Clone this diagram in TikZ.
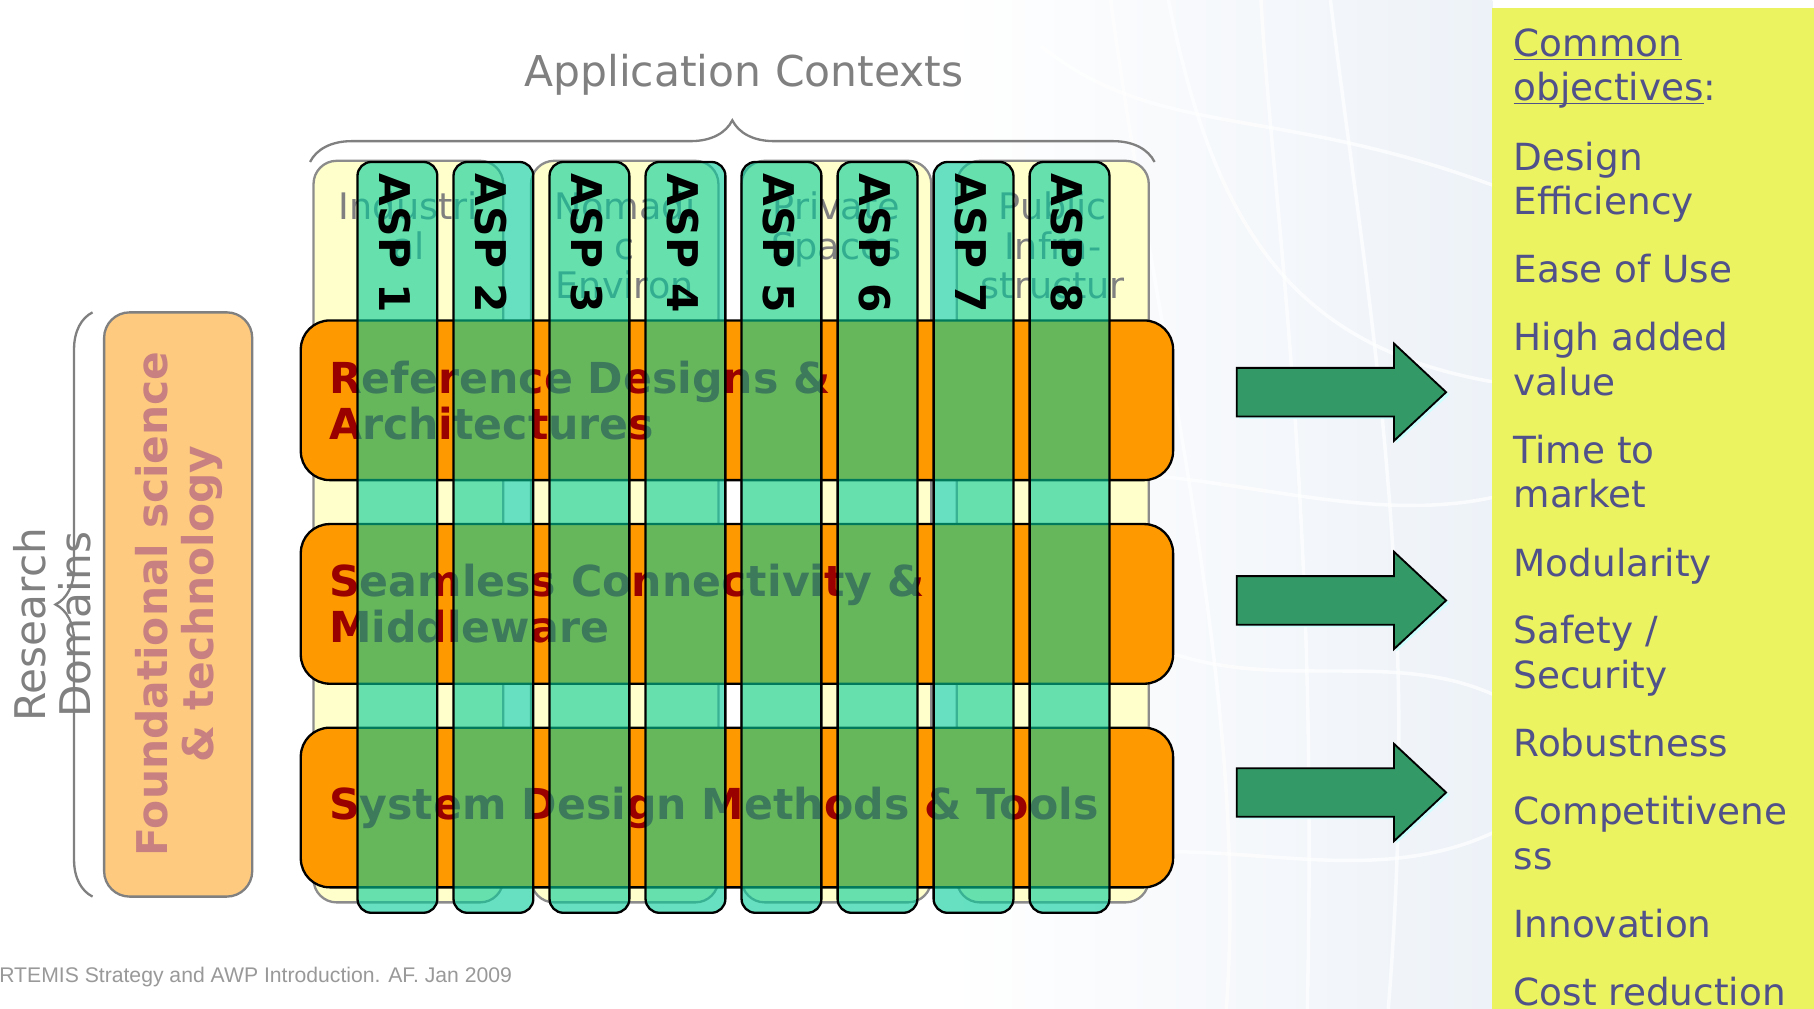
\documentclass[tikz,border=0pt]{standalone}
\usepackage{fontspec}
\setmainfont{DejaVu Sans}
\newfontfamily\footfont{Liberation Sans}
\usetikzlibrary{decorations.pathreplacing}

\definecolor{ctxfill}{HTML}{FFFFCC}
\definecolor{ctxline}{HTML}{8C8C8C}
\definecolor{rowfill}{HTML}{FF9900}
\definecolor{rowtext}{HTML}{990000}
\definecolor{aspfill}{HTML}{00CC99}
\definecolor{foundfill}{HTML}{FDCA7F}
\definecolor{foundtext}{HTML}{C88080}
\definecolor{graytext}{HTML}{808080}
\definecolor{arrowfill}{HTML}{339966}
\definecolor{arrowshadow}{HTML}{CCFFFF}
\definecolor{panelfill}{HTML}{EBF360}
\definecolor{paneltext}{HTML}{50508A}
\definecolor{foottext}{HTML}{999999}
\definecolor{bgblue}{HTML}{EDF2F8}

\begin{document}
\begin{tikzpicture}[x=0.5pt,y=-0.5pt,
  ctxbox/.style={draw=ctxline, line width=1pt, fill=ctxfill, rounded corners=10pt},
  ctxlabel/.style={text=graytext, font=\fontsize{15.8}{17.25}\selectfont, align=center, anchor=north, inner sep=0pt},
  rowbox/.style={draw=black, line width=1pt, fill=rowfill, rounded corners=12.5pt},
  rowlabel/.style={text=rowtext, font=\bfseries\fontsize{18.45}{20}\selectfont, align=left, anchor=west, inner sep=0pt},
  aspbox/.style={draw=black, line width=1pt, fill=aspfill, fill opacity=0.6, rounded corners=6pt},
  asplabel/.style={font=\bfseries\fontsize{18.3}{20}\selectfont, rotate=-90, anchor=west, inner sep=0pt},
  bracestyle/.style={draw=graytext, line width=1pt, decorate},
  blockarrow/.style={draw=black, line width=0.8pt, fill=arrowfill},
  objline/.style={text=paneltext, font=\fontsize{16.15}{19.25}\selectfont, anchor=base west, inner sep=0pt}
]
\useasboundingbox (0,0) rectangle (1568,872);
\fill[white] (0,0) rectangle (1568,872);

% faint textured backdrop behind the arrows
\shade[left color=white, right color=bgblue] (820,0) rectangle (1290,872);
\begin{scope}[draw=white, line width=1.5pt, opacity=0.7]
  \draw (900,40) .. controls (1000,120) and (1100,90) .. (1290,160);
  \draw (960,0) .. controls (1000,300) and (1080,600) .. (1060,872);
  \draw (1150,0) .. controls (1180,250) and (1230,500) .. (1200,872);
  \draw (850,420) .. controls (1000,380) and (1150,460) .. (1290,430);
  \draw (880,760) .. controls (1020,700) and (1160,780) .. (1290,720);
  \draw (1010,0) .. controls (1050,200) and (1120,300) .. (1290,330);
  \draw (1090,0) .. controls (1100,180) and (1140,420) .. (1130,872);
  \draw (1000,560) .. controls (1100,600) and (1200,560) .. (1290,600);
\end{scope}

% objectives panel
\fill[panelfill] (1290,7) rectangle (1570,874);

% application contexts heading and brace
\node[text=graytext, font=\fontsize{18.35}{22}\selectfont] (title) at (643,65) {Application Contexts};
\draw[bracestyle, decoration={brace, amplitude=18pt}] (268,140) -- (998,140);

% research domains heading and brace
\draw[bracestyle, decoration={brace, amplitude=16pt}] (80,775) -- (80,270);
\node[rotate=90, align=center, text=graytext, font=\fontsize{18.25}{19.5}\selectfont] (research) at (45,540) {Research\\Domains};

% foundational science box
\draw[draw=graytext, line width=1pt, fill=foundfill, rounded corners=11pt] (90,270) rectangle (218,775);
\node[rotate=90, align=center, text=foundtext, font=\bfseries\fontsize{18.3}{20}\selectfont] (found) at (155,522) {Foundational science\\\& technology};

% application context boxes
\draw[ctxbox] (271,139) rectangle (435,780);
\draw[ctxbox] (459,139) rectangle (621,780);
\draw[ctxbox] (641,139) rectangle (805,780);
\draw[ctxbox] (827,139) rectangle (993,780);
\node[ctxlabel] (ctx1) at (353,165) {Industri\\al};
\node[ctxlabel] (ctx2) at (540,165) {Nomadi\\c\\Environ};
\node[ctxlabel] (ctx3) at (723,165) {Private\\Spaces};
\node[ctxlabel] (ctx4) at (910,165) {Public\\Infra-\\structur};

% research domain rows
\draw[rowbox] (260,277) rectangle (1014,415);
\draw[rowbox] (260,453) rectangle (1014,591);
\draw[rowbox] (260,629) rectangle (1014,767);
\node[rowlabel] (rd1) at (284,346) {Reference Designs \&\\Architectures};
\node[rowlabel] (rd2) at (284,522) {Seamless Connectivity \&\\Middleware};
\node[rowlabel] (rd3) at (284,698) {System Design Methods \& Tools};

% application sub-programme columns
\foreach \i in {1,...,8} {
  \pgfmathsetmacro{\xl}{309+83*(\i-1)}
  \draw[aspbox] (\xl,140) rectangle (\xl+69,789);
  \node[asplabel] (asp\i) at (\xl+32,150) {ASP \i};
}

% arrows towards the objectives
\foreach \y [count=\k] in {339,519,685} {
  \fill[arrowshadow] (1071,\y-19) -- (1207,\y-19) -- (1207,\y-40) -- (1253,\y+2) -- (1207,\y+44) -- (1207,\y+23) -- (1071,\y+23) -- cycle;
  \draw[blockarrow] (1069,\y-21) -- (1205,\y-21) -- (1205,\y-42) -- (1250,\y) -- (1205,\y+42) -- (1205,\y+21) -- (1069,\y+21) -- cycle;
  \coordinate (arrowtip\k) at (1250,\y);
}

% common objectives
\node[objline] (o1) at (1308,49) {\underline{\smash{Common}}};
\node[objline] (o2) at (1308,87) {\underline{\smash{objectives}}:};
\node[objline] (o3) at (1308,147) {Design};
\node[objline] (o4) at (1308,185) {Efficiency};
\node[objline] (o5) at (1308,244) {Ease of Use};
\node[objline] (o6) at (1308,303) {High added};
\node[objline] (o7) at (1308,342) {value};
\node[objline] (o8) at (1308,401) {Time to};
\node[objline] (o9) at (1308,439) {market};
\node[objline] (o10) at (1308,498) {Modularity};
\node[objline] (o11) at (1308,556) {Safety /};
\node[objline] (o12) at (1308,595) {Security};
\node[objline] (o13) at (1308,654) {Robustness};
\node[objline] (o14) at (1308,713) {Competitivene};
\node[objline] (o15) at (1308,752) {ss};
\node[objline] (o16) at (1308,810) {Innovation};
\node[objline] (o17) at (1308,869) {Cost reduction};

% footer
\node[anchor=base west, inner sep=0pt, text=foottext, font=\footfont\fontsize{9.15}{11}\selectfont] (footer) at (-1,849) {RTEMIS Strategy and AWP Introduction. AF. Jan 2009};
\end{tikzpicture}
\end{document}
